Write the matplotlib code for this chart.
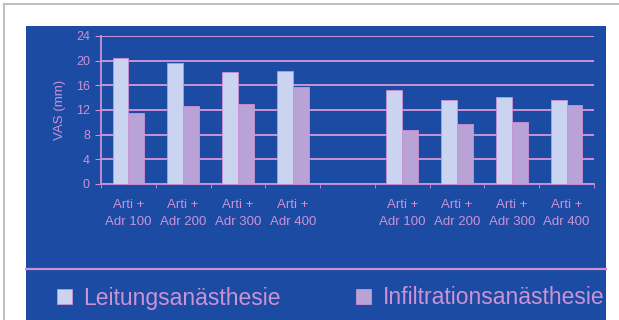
import matplotlib
matplotlib.use("Agg")
import matplotlib.pyplot as plt
from matplotlib.patches import Rectangle
from matplotlib.lines import Line2D
import numpy as np

plt.rcParams['font.family'] = ['Liberation Sans', 'DejaVu Sans']

categories = ["Arti +\nAdr 100", "Arti +\nAdr 200", "Arti +\nAdr 300", "Arti +\nAdr 400", "",
              "Arti +\nAdr 100", "Arti +\nAdr 200", "Arti +\nAdr 300", "Arti +\nAdr 400"]
leitung = [20.5, 19.7, 18.1, 18.4, np.nan, 15.3, 13.6, 14.1, 13.6]
infiltration = [11.5, 12.6, 12.9, 15.8, np.nan, 8.75, 9.7, 10.0, 12.75]
series_names = ["Leitungsanästhesie", "Infiltrationsanästhesie"]
y_ticks = [0, 4, 8, 12, 16, 20, 24]
y_label = "VAS (mm)"

W, H = 619, 320
BLUE = "#1b4ba3"
PINK = "#cc92d4"
C1 = "#cad4f0"
C2 = "#b9a3d6"

fig = plt.figure(figsize=(W / 100, H / 100), dpi=100)
fig.patch.set_facecolor("white")

# blue panel
fig.patches.append(Rectangle((26 / W, 0), (606 - 26) / W, (320 - 26) / H,
                             transform=fig.transFigure, facecolor=BLUE, edgecolor="none", zorder=-5))
# gray border
fig.lines.append(Line2D([4 / W, 1], [1 - 4 / H, 1 - 4 / H], transform=fig.transFigure,
                        color="#c0c0c0", lw=1.5, zorder=-4))
fig.lines.append(Line2D([4 / W, 4 / W], [0, 1 - 4 / H], transform=fig.transFigure,
                        color="#c0c0c0", lw=1.5, zorder=-4))
# legend separator line
fig.lines.append(Line2D([26 / W, 606 / W], [1 - 269 / H, 1 - 269 / H], transform=fig.transFigure,
                        color=PINK, lw=1.6, zorder=-4))

ax_left, ax_right, ax_top, ax_bot = 101, 594, 36, 184
ax = fig.add_axes([ax_left / W, 1 - ax_bot / H, (ax_right - ax_left) / W, (ax_bot - ax_top) / H])
ax.set_zorder(2)
ax.set_facecolor("none")

x = np.arange(len(categories))
bw = 0.29
b1 = ax.bar(x - bw / 2, leitung, bw, color=C1, edgecolor=PINK, linewidth=0.6, zorder=3,
            label=series_names[0])
b2 = ax.bar(x + bw / 2, infiltration, bw, color=C2, edgecolor=PINK, linewidth=0.6, zorder=3,
            label=series_names[1])

ax.set_xlim(-0.5, len(categories) - 0.5)
ax.set_ylim(0, 24)
ax.set_yticks(y_ticks)
ax.set_yticklabels([str(t) for t in y_ticks], fontsize=9, color=PINK)
ax.set_xticks(x)
ax.set_xticklabels(categories, fontsize=9.5, color=PINK, linespacing=1.55)
ax.set_xticks(np.arange(-0.5, len(categories)), minor=True)
ax.tick_params(axis="x", which="major", length=0, pad=11)
ax.tick_params(axis="x", which="minor", length=3, color=PINK, direction="out")
ax.tick_params(axis="y", length=4, color=PINK, pad=4)
ax.grid(axis="y", color=PINK, lw=1.4, zorder=1)
for s in ["top", "right"]:
    ax.spines[s].set_visible(False)
for s in ["left", "bottom"]:
    ax.spines[s].set_color(PINK)
    ax.spines[s].set_linewidth(1.3)
ax.set_ylabel(y_label, fontsize=9.5, color=PINK)
ax.yaxis.set_label_coords((66 - ax_left) / (ax_right - ax_left), 0.5)

leg = fig.legend(handles=[b1, b2], labels=series_names, loc="center left",
                 bbox_to_anchor=(57 / W, 1 - 298 / H), ncol=2, frameon=False,
                 fontsize=16.5, handlelength=0.65, handleheight=0.65, handletextpad=0.5,
                 columnspacing=3.3, labelcolor=PINK, borderaxespad=0, borderpad=0)

fig.savefig("out.png", dpi=100, facecolor="white")
